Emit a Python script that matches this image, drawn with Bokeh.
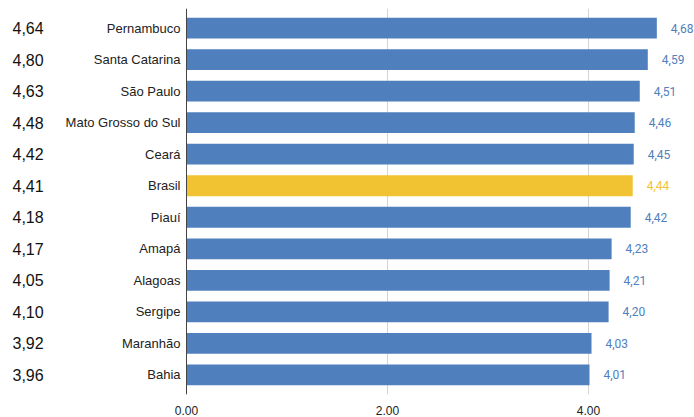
from bokeh.plotting import figure
from bokeh.models import ColumnDataSource, FactorRange, LabelSet, FixedTicker, PrintfTickFormatter, Span
from bokeh.core.properties import value
from bokeh.embed import file_html
from bokeh.resources import INLINE

# ---- data ----
states = ["Pernambuco", "Santa Catarina", "São Paulo", "Mato Grosso do Sul", "Ceará", "Brasil",
          "Piauí", "Amapá", "Alagoas", "Sergipe", "Maranhão", "Bahia"]
values = [4.68, 4.59, 4.51, 4.46, 4.45, 4.44, 4.42, 4.23, 4.21, 4.20, 4.03, 4.01]
side_values = ["4,64", "4,80", "4,63", "4,48", "4,42", "4,41", "4,18", "4,17", "4,05", "4,10", "3,92", "3,96"]
highlight = "Brasil"
x_ticks = [0, 2, 4]

BLUE = "#4F80BD"
GOLD = "#F1C232"

colors = [GOLD if s == highlight else BLUE for s in states]
labels = [f"{v:.2f}".replace(".", ",") for v in values]

W, H = 694, 417
LEFT = 186          # pixel position of the value axis origin
SCALE = 100.5       # px per unit
side_x = (12 - LEFT) / SCALE  # left column position in data units

src = ColumnDataSource(dict(state=states, value=values, color=colors, label=labels,
                            side=side_values, sx=[side_x] * len(states), zero=[0] * len(states)))

p = figure(width=W, height=H, output_backend="svg", toolbar_location=None,
           y_range=FactorRange(*states[::-1], range_padding=0.12, range_padding_units="absolute"),
           x_range=(-LEFT / SCALE, (W - LEFT) / SCALE),
           min_border_left=0, min_border_right=0, min_border_top=8, min_border_bottom=18)
p.outline_line_color = None

p.hbar(y="state", right="value", left=0, height=0.66, color="color", line_color=None, source=src)

# vertical axis line at zero
p.add_layout(Span(location=0, dimension="height", line_color="#444444", line_width=1))

# category labels
p.add_layout(LabelSet(x="zero", y="state", text="state", source=src, x_offset=-6,
                      text_color="#222222", text_font=value("Liberation Sans"), text_font_size="13px",
                      text_baseline="middle", text_align="right"))

# value labels at bar ends
p.add_layout(LabelSet(x="value", y="state", text="label", source=src, x_offset=14,
                      text_color="color", text_font=value("Roboto"), text_font_size="12px",
                      text_baseline="middle", text_align="left"))

# side numbers on the far left
p.add_layout(LabelSet(x="sx", y="state", text="side", source=src,
                      text_color="#111111", text_font=value("Liberation Sans"), text_font_size="16px",
                      text_baseline="middle", text_align="left"))

# axes
p.yaxis.visible = False

p.xaxis.ticker = FixedTicker(ticks=x_ticks)
p.xaxis.formatter = PrintfTickFormatter(format="%.2f")
p.xaxis.axis_line_color = None
p.xaxis.major_tick_line_color = None
p.xaxis.minor_tick_line_color = None
p.xaxis.major_label_text_font = "Liberation Sans"
p.xaxis.major_label_text_font_size = "12px"
p.xaxis.major_label_text_color = "#222222"
p.xaxis.major_label_standoff = 5

p.xgrid.ticker = FixedTicker(ticks=x_ticks)
p.xgrid.grid_line_color = "#d4d4d4"
p.ygrid.grid_line_color = None

open("out.html", "w").write(file_html(p, INLINE))
